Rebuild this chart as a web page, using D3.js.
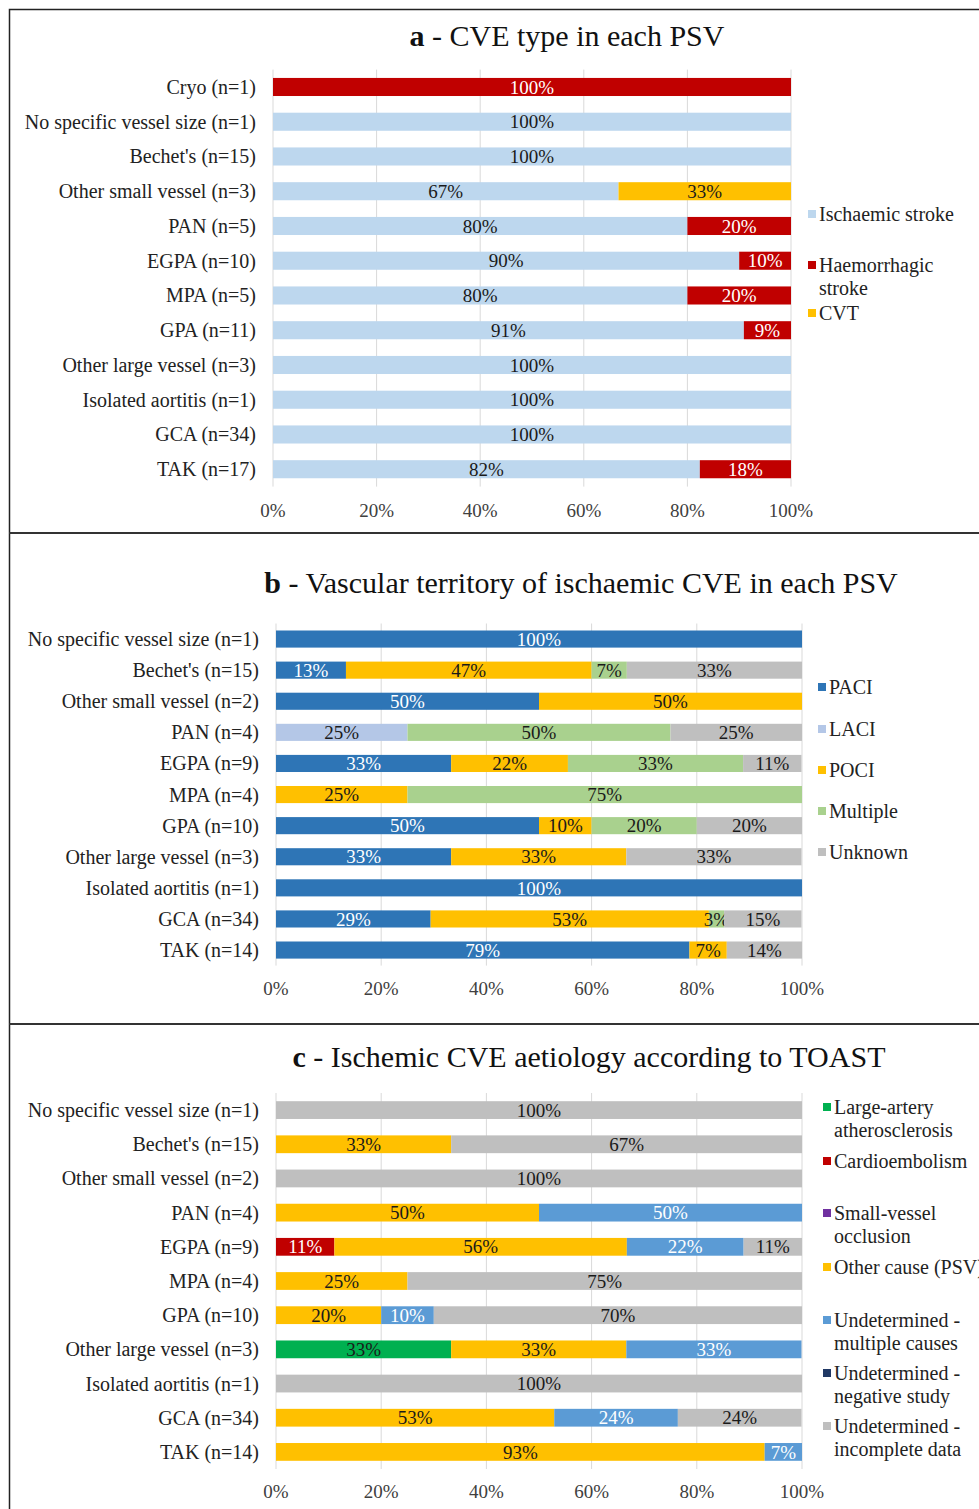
<!DOCTYPE html>
<html><head><meta charset="utf-8">
<script src="https://cdn.jsdelivr.net/npm/d3@7"></script>
<style>
body{margin:0;background:#fff;}
text{font-family:"Liberation Serif","Times New Roman",serif;}
</style></head>
<body><svg id="c" width="979" height="1509"></svg>
<script>
// ---------- DATA ----------
const xTicks = [0, 20, 40, 60, 80, 100];

// Panel a
const catsA = ["Cryo (n=1)","No specific vessel size (n=1)","Bechet's (n=15)","Other small vessel (n=3)","PAN (n=5)","EGPA (n=10)","MPA (n=5)","GPA (n=11)","Other large vessel (n=3)","Isolated aortitis (n=1)","GCA (n=34)","TAK (n=17)"];
const ischaemicA    = [0,100,100,66.7,80,90,80,90.9,100,100,100,82.4];
const haemorrhagicA = [100,0,0,0,20,10,20,9.1,0,0,0,17.6];
const cvtA          = [0,0,0,33.3,0,0,0,0,0,0,0,0];

// Panel b
const catsB = ["No specific vessel size (n=1)","Bechet's (n=15)","Other small vessel (n=2)","PAN (n=4)","EGPA (n=9)","MPA (n=4)","GPA (n=10)","Other large vessel (n=3)","Isolated aortitis (n=1)","GCA (n=34)","TAK (n=14)"];
const paciB     = [100,13.3,50,0,33.3,0,50,33.3,100,29.4,78.6];
const laciB     = [0,0,0,25,0,0,0,0,0,0,0];
const pociB     = [0,46.7,50,0,22.2,25,10,33.3,0,52.9,7.1];
const multipleB = [0,6.7,0,50,33.3,75,20,0,0,2.9,0];
const unknownB  = [0,33.3,0,25,11.1,0,20,33.3,0,14.7,14.3];

// Panel c
const catsC = ["No specific vessel size (n=1)","Bechet's (n=15)","Other small vessel (n=2)","PAN (n=4)","EGPA (n=9)","MPA (n=4)","GPA (n=10)","Other large vessel (n=3)","Isolated aortitis (n=1)","GCA (n=34)","TAK (n=14)"];
const largeArteryC   = [0,0,0,0,0,0,0,33.3,0,0,0];
const cardioC        = [0,0,0,0,11.1,0,0,0,0,0,0];
const smallVesselC   = [0,0,0,0,0,0,0,0,0,0,0];
const otherCauseC    = [0,33.3,0,50,55.6,25,20,33.3,0,52.9,92.9];
const undMultipleC   = [0,0,0,50,22.2,0,10,33.3,0,23.5,7.1];
const undNegativeC   = [0,0,0,0,0,0,0,0,0,0,0];
const undIncompleteC = [100,66.7,100,0,11.1,75,70,0,100,23.5,0];

// ---------- DRAW ----------
const svg = d3.select("#c");

// frame
svg.append("rect").attr("x",9.5).attr("y",9.5).attr("width",1000).attr("height",1520)
  .attr("fill","none").attr("stroke","#222").attr("stroke-width",1.5);
[533,1024].forEach(y=>svg.append("line").attr("x1",9).attr("x2",979).attr("y1",y).attr("y2",y)
  .attr("stroke","#333").attr("stroke-width",2.2));

function panel(cfg){
  const g = svg.append("g");
  const x = d3.scaleLinear().domain([0,100]).range([cfg.x0, cfg.x1]);
  const y = d3.scaleBand().domain(cfg.cats).range([cfg.yTop, cfg.yBot]).paddingInner(cfg.pad).paddingOuter(cfg.pad/2);
  // title
  const t = g.append("text").attr("x",cfg.titleX).attr("y",cfg.titleY).attr("text-anchor","middle")
    .attr("font-size",30).attr("fill","#111");
  t.append("tspan").attr("font-weight","bold").text(cfg.letter);
  t.append("tspan").text(cfg.title);
  // gridlines
  g.selectAll(".grid").data(xTicks).join("line")
    .attr("x1",d=>x(d)).attr("x2",d=>x(d)).attr("y1",cfg.yTop).attr("y2",cfg.yBot)
    .attr("stroke","#d9d9d9").attr("stroke-width",1);
  // tick labels
  g.selectAll(".tk").data(xTicks).join("text")
    .attr("x",d=>x(d)).attr("y",cfg.tickY).attr("text-anchor","middle").attr("font-size",19)
    .attr("fill","#404040").text(d=>d+"%");
  // category labels
  g.selectAll(".cat").data(cfg.cats).join("text")
    .attr("x",cfg.x0-17).attr("y",d=>y(d)+y.bandwidth()/2).attr("dy","0.35em")
    .attr("text-anchor","end").attr("font-size",20).attr("fill","#222").text(d=>d);
  // stacked
  const rows = cfg.cats.map((c,i)=>{const o={cat:c}; cfg.series.forEach(s=>o[s.key]=s.values[i]); return o;});
  const stack = d3.stack().keys(cfg.series.map(s=>s.key))(rows);
  stack.forEach((layer,li)=>{
    const s = cfg.series[li];
    const segs = layer.map((d,i)=>({x0:d[0],x1:d[1],cat:cfg.cats[i]})).filter(d=>d.x1-d.x0>0);
    g.selectAll(null).data(segs).join("rect")
      .attr("x",d=>x(d.x0)).attr("width",d=>x(d.x1)-x(d.x0))
      .attr("y",d=>y(d.cat)).attr("height",y.bandwidth()).attr("fill",s.color);
    g.selectAll(null).data(segs).join("text")
      .attr("x",d=>(x(d.x0)+x(d.x1))/2).attr("y",d=>y(d.cat)+y.bandwidth()/2).attr("dy","0.35em")
      .attr("text-anchor","middle").attr("font-size",19).attr("fill",s.text)
      .text(d=>Math.round(d.x1-d.x0)+"%");
  });
  // legend
  cfg.legend.forEach((l,i)=>{
    const s = cfg.series.find(q=>q.key===l.key);
    g.append("rect").attr("x",cfg.legX).attr("y",l.y-4).attr("width",8).attr("height",8).attr("fill",s.color);
    const tx = g.append("text").attr("x",cfg.legX+11).attr("y",l.y).attr("dy","0.35em")
      .attr("font-size",20).attr("fill","#222");
    s.label.forEach((line,j)=>tx.append("tspan").attr("x",cfg.legX+11).attr("dy",j===0?"0.35em":"23").text(line));
  });
}

panel({
  letter:"a", title:" - CVE type in  each PSV", titleX:567, titleY:46,
  cats:catsA, x0:273, x1:791, yTop:69.6, yBot:486.6, pad:0.48, tickY:517,
  series:[
    {key:"isch", values:ischaemicA, color:"#bdd7ee", text:"#1a1a1a", label:["Ischaemic stroke"]},
    {key:"haem", values:haemorrhagicA, color:"#c00000", text:"#ffffff", label:["Haemorrhagic","stroke"]},
    {key:"cvt", values:cvtA, color:"#ffc000", text:"#1a1a1a", label:["CVT"]}
  ],
  legX:808,
  legend:[{key:"isch",y:214},{key:"haem",y:265},{key:"cvt",y:313}]
});

panel({
  letter:"b", title:" - Vascular territory of ischaemic CVE in each PSV", titleX:581, titleY:593,
  cats:catsB, x0:276, x1:802, yTop:623.5, yBot:965.6, pad:0.45, tickY:995,
  series:[
    {key:"paci", values:paciB, color:"#2e75b6", text:"#ffffff", label:["PACI"]},
    {key:"laci", values:laciB, color:"#b4c7e7", text:"#1a1a1a", label:["LACI"]},
    {key:"poci", values:pociB, color:"#ffc000", text:"#1a1a1a", label:["POCI"]},
    {key:"mult", values:multipleB, color:"#a9d18e", text:"#1a1a1a", label:["Multiple"]},
    {key:"unk", values:unknownB, color:"#bfbfbf", text:"#1a1a1a", label:["Unknown"]}
  ],
  legX:818,
  legend:[{key:"paci",y:687},{key:"laci",y:729},{key:"poci",y:770},{key:"mult",y:811},{key:"unk",y:852}]
});

panel({
  letter:"c", title:" - Ischemic CVE aetiology according to TOAST", titleX:589, titleY:1067,
  cats:catsC, x0:276, x1:802, yTop:1093, yBot:1469, pad:0.48, tickY:1498,
  series:[
    {key:"la", values:largeArteryC, color:"#00b050", text:"#1a1a1a", label:["Large-artery","atherosclerosis"]},
    {key:"ce", values:cardioC, color:"#c00000", text:"#ffffff", label:["Cardioembolism"]},
    {key:"sv", values:smallVesselC, color:"#7030a0", text:"#ffffff", label:["Small-vessel","occlusion"]},
    {key:"oc", values:otherCauseC, color:"#ffc000", text:"#1a1a1a", label:["Other cause (PSV)"]},
    {key:"um", values:undMultipleC, color:"#5b9bd5", text:"#ffffff", label:["Undetermined -","multiple causes"]},
    {key:"un", values:undNegativeC, color:"#203864", text:"#ffffff", label:["Undetermined -","negative study"]},
    {key:"ui", values:undIncompleteC, color:"#bfbfbf", text:"#1a1a1a", label:["Undetermined -","incomplete data"]}
  ],
  legX:823,
  legend:[{key:"la",y:1107},{key:"ce",y:1161},{key:"sv",y:1213},{key:"oc",y:1267},{key:"um",y:1320},{key:"un",y:1373},{key:"ui",y:1426}]
});
</script></body></html>
